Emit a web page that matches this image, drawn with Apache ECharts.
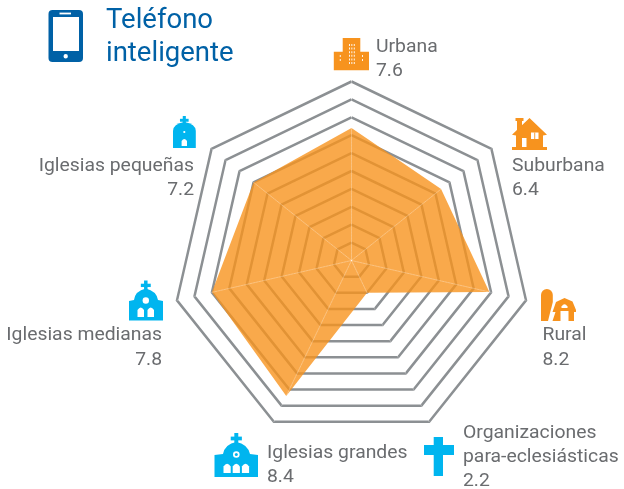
<!DOCTYPE html>
<html><head><meta charset="utf-8">
<style>html,body{margin:0;padding:0;background:#fff}#c{width:624px;height:489px}</style>
<script src="https://cdn.jsdelivr.net/npm/echarts@6/dist/echarts.min.js"></script>
</head><body><div id="c"></div>
<script>
// Order runs anticlockwise from the top, as ECharts lays out radar indicators.
const categories = ['Urbana','Iglesias pequeñas','Iglesias medianas','Iglesias grandes','Organizaciones para-eclesiásticas','Rural','Suburbana'];
const plottedValues = [7.4,7.0,8.0,8.4,2.0,7.9,6.4];
const printedValues = ['7.6','7.2','7.8','8.4','2.2','8.2','6.4']; // as printed beside each icon
const titleLines = ['Teléfono','inteligente'];
const axisMax = 10, rings = 10;

const BLUE='#0061a6', SKY='#00b5ef', ORANGE='#f7931e', TXT='#6a6c6f', W='#fff';
const FONT='Roboto';
const chart = echarts.init(document.getElementById('c'));
const text=(s,x,y,align,size,color,sx)=>({type:'text',x,y,scaleX:sx||1.075,silent:true,style:{text:s,x:0,y:0,align:align||'left',verticalAlign:'middle',font:(size||18)+'px '+FONT,fill:color||TXT}});
let shapeId=0;
const p=(d,f)=>{const name='iconShape'+(shapeId++);echarts.graphic.registerShape(name,echarts.graphic.extendPath(d,{}));return {type:name,silent:true,style:{fill:f}};};
const r=(x,y,w,h,f,rad)=>({type:'rect',silent:true,shape:{x,y,width:w,height:h,r:rad||0},style:{fill:f}});
const c=(x,y,rd,f)=>({type:'circle',silent:true,shape:{cx:x,cy:y,r:rd},style:{fill:f}});

const cross=(x,t,s,f)=>[r(x-s*0.22,t,s*0.44,s*1.5,f),r(x-s*0.62,t+s*0.4,s*1.24,s*0.42,f)];
const icons=[
  // phone
  r(48.5,10,34.5,52,BLUE,4), r(53,17,26,34,W), r(59.5,12.6,11.5,1.8,W), c(65.7,56.3,2.2,W),
  // building
  r(342.7,38,17.6,15,ORANGE), r(333.8,51.7,35.2,18.5,ORANGE),
  ...[0,1,2].flatMap(i=>[0,1,2,3,4,5].map(j=>r(349+i*2.4,44+j*3.6,0.9,2,W))),
  ...[0,1].map(j=>r(339.8,55+j*4,0.9,2,W)), ...[0,1].map(j=>r(362,55+j*4,0.9,2,W)),
  // house
  r(515.5,118,8,3,ORANGE), r(517,120,5,12,ORANGE),
  p('M529.5 118 L547 134.8 L543 135.5 L543 147 L516 147 L516 135.5 L512 134.8 Z',ORANGE),
  r(512,147,35,3,ORANGE), r(522,138,4.5,9,W), r(531,132.5,7.5,6.5,W), r(534.3,132.5,0.9,6.5,ORANGE),
  // silo and barn
  p('M541 321 L541 295 A5.9 6 0 0 1 552.8 295 L552.8 302 L548 321 Z',ORANGE),
  p('M564.5 298 L572.5 301.5 L576 310 L576 312 L574 312 L574 321 L568.5 321 L568.5 311 L560.5 311 L560.5 321 L552.5 321 L555.5 312 L552.5 312 L556 302 Z',ORANGE),
  p('M561.5 306.5 Q564.5 302 567.5 306.5 L567.5 308 L561.5 308 Z',W),
  // small church
  ...cross(184.3,116,7,SKY),
  p('M173 131 Q173 124 184.3 122 Q195.8 124 195.8 131 L195.8 148 L173 148 Z',SKY), c(184.3,132,1.1,W),
  p('M181.6 146 L181.6 141 Q184.3 137 187 141 L187 146 Z',W),
  // medium church
  ...cross(145.8,280.5,8,SKY),
  p('M134 300 Q135 291 145.8 288.5 Q156.5 291 158 300 L163 301 L163 320.6 L129 320.6 L129 301 Z',SKY),
  c(145.8,300.5,3.2,W),
  p('M137.5 317 L137.5 310 Q140.7 305 144 310 L144 317 Z',W), p('M147.5 317 L147.5 310 Q150.7 305 154 310 L154 317 Z',W),
  // large church
  ...cross(236.3,433,9,SKY),
  p('M223 454 Q225 444 236.3 442 Q247.5 444 250 454 L258 455 L258 477 L214.5 477 L214.5 455 Z',SKY),
  c(236.3,454.5,3.3,W), c(236.3,454.5,1.5,SKY),
  ...[223.5,232.7,241.9].map(x=>p(`M${x} 473 L${x} 466.5 Q${x+3.6} 461 ${x+7.2} 466.5 L${x+7.2} 473 Z`,W)),
  // cross
  r(433.7,437,9.3,39,SKY), r(424,445,30,10,SKY)
];

const labels=[
  text(titleLines[0],106,21.5,'left',27.5,BLUE,1), text(titleLines[1],106,54.5,'left',27.5,BLUE,1),
  text(categories[0],376,47), text(printedValues[0],376,71),
  text(categories[6],512,166), text(printedValues[6],512,190),
  text(categories[5],542.5,335), text(printedValues[5],542.5,360),
  text('Organizaciones',463,433), text('para-eclesiásticas',463,457), text(printedValues[4],463,481),
  text(categories[3],267,453), text(printedValues[3],267,477),
  text(categories[2],162,335,'right'), text(printedValues[2],162,360,'right'),
  text(categories[1],194,166,'right'), text(printedValues[1],194,190,'right')
];

const indicator=categories.map(name=>({name,max:axisMax}));
const base={center:[351.5,260.5],radius:179,startAngle:90,splitNumber:rings,shape:'polygon',indicator,axisName:{show:false},axisTick:{show:false},axisLabel:{show:false}};
chart.setOption({
  animation:false,
  radar:[
    {...base,z:0,axisLine:{show:false},splitArea:{show:false},splitLine:{lineStyle:{color:'#8c9093',width:2.5}}},
    {...base,z:5,axisLine:{show:true,lineStyle:{color:'rgba(255,255,255,0.3)',width:1,type:[2,1]}},splitArea:{show:false},splitLine:{show:false}}
  ],
  series:[{type:'radar',radarIndex:0,z:2,symbol:'none',silent:true,
    data:[{value:plottedValues,lineStyle:{width:0},areaStyle:{color:ORANGE,opacity:0.8}}]}],
  graphic:{elements:[...icons,...labels]}
});
</script></body></html>
